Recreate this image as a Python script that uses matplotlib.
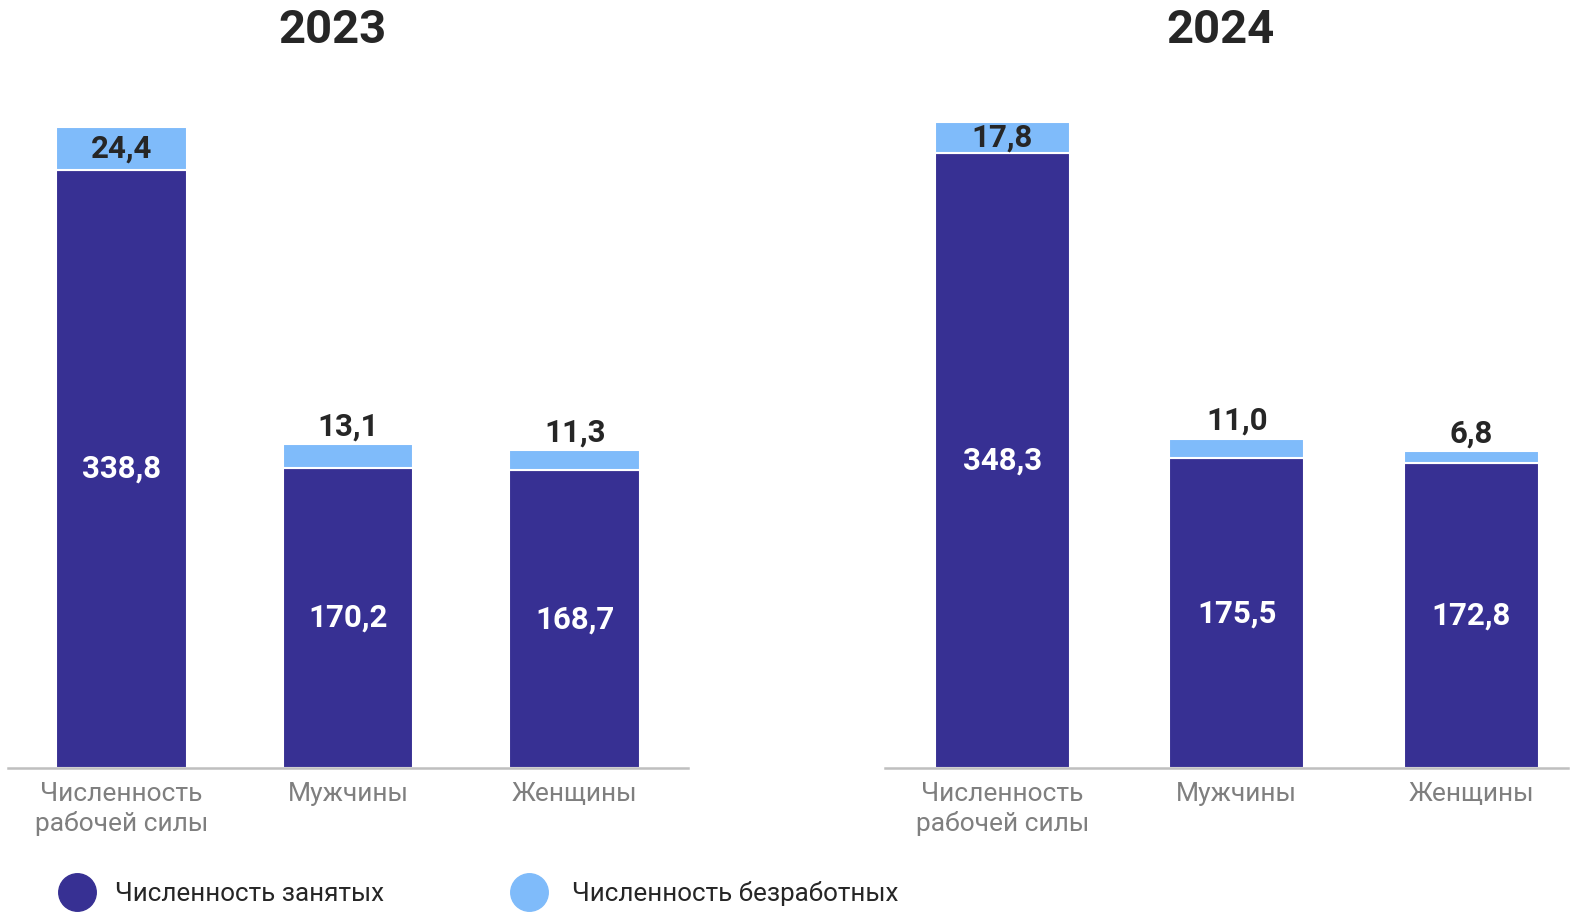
import matplotlib.pyplot as plt
from matplotlib.lines import Line2D

plt.rcParams['font.family'] = ['Roboto', 'DejaVu Sans']

categories = ["Численность\nрабочей силы", "Мужчины", "Женщины"]
years = ["2023", "2024"]
employed = {"2023": [338.8, 170.2, 168.7], "2024": [348.3, 175.5, 172.8]}
unemployed = {"2023": [24.4, 13.1, 11.3], "2024": [17.8, 11.0, 6.8]}
legend_labels = ["Численность занятых", "Численность безработных"]

DARK = "#373093"
LIGHT = "#7FBBFA"
TXT = "#262626"
GRAY = "#7F7F7F"

W, H = 1576, 915
fig = plt.figure(figsize=(W / 100, H / 100), dpi=100)

# axes boxes in pixels: left, width, x-range
panels = {
    "2023": dict(x0=8, w=680, xmax=2.5, title_x=333),
    "2024": dict(x0=885, w=683, xmax=2.413, title_x=1220),
}
base_y = 768
ax_h = 706

for yr in years:
    p = panels[yr]
    ax = fig.add_axes([p["x0"] / W, (H - base_y) / H, p["w"] / W, ax_h / H])
    x = range(len(categories))
    emp = employed[yr]
    une = unemployed[yr]
    ax.bar(x, emp, width=0.575, color=DARK, edgecolor="white", linewidth=1.5)
    ax.bar(x, une, bottom=emp, width=0.575, color=LIGHT, edgecolor="white", linewidth=1.5)
    for i in x:
        ax.text(i, emp[i] / 2, f"{emp[i]:.1f}".replace(".", ","), ha="center", va="center",
                color="white", fontsize=22.5, fontweight="bold")
        lab = f"{une[i]:.1f}".replace(".", ",")
        if une[i] > 15:
            ax.text(i, emp[i] + une[i] / 2, lab, ha="center", va="center",
                    color=TXT, fontsize=22.5, fontweight="bold")
        else:
            ax.annotate(lab, (i, emp[i] + une[i]), xytext=(0, 2), textcoords="offset points",
                        ha="center", va="bottom", color=TXT, fontsize=22.5, fontweight="bold")
    ax.set_xlim(-0.5, p["xmax"])
    ax.set_ylim(0, 400)
    ax.set_xticks(list(x))
    ax.set_xticklabels(categories, color=GRAY, fontsize=19, linespacing=1.25)
    ax.tick_params(axis="x", length=0, pad=10)
    ax.set_yticks([])
    for s in ["top", "left", "right"]:
        ax.spines[s].set_visible(False)
    ax.spines["bottom"].set_color("#BFBFBF")
    ax.spines["bottom"].set_linewidth(1.8)
    fig.text(p["title_x"] / W, 1 - 30 / H, yr, ha="center", va="center",
             fontsize=34, fontweight="bold", color=TXT)

# legend
for cx, tx, col, lab in [(77, 115, DARK, legend_labels[0]), (529, 572, LIGHT, legend_labels[1])]:
    fig.add_artist(Line2D([cx / W], [1 - 892 / H], transform=fig.transFigure,
                          marker="o", markersize=27, color=col, linestyle="none"))
    fig.text(tx / W, 1 - 894 / H, lab, ha="left", va="center", fontsize=18.7, color=TXT)

fig.savefig("out.png", dpi=100)
